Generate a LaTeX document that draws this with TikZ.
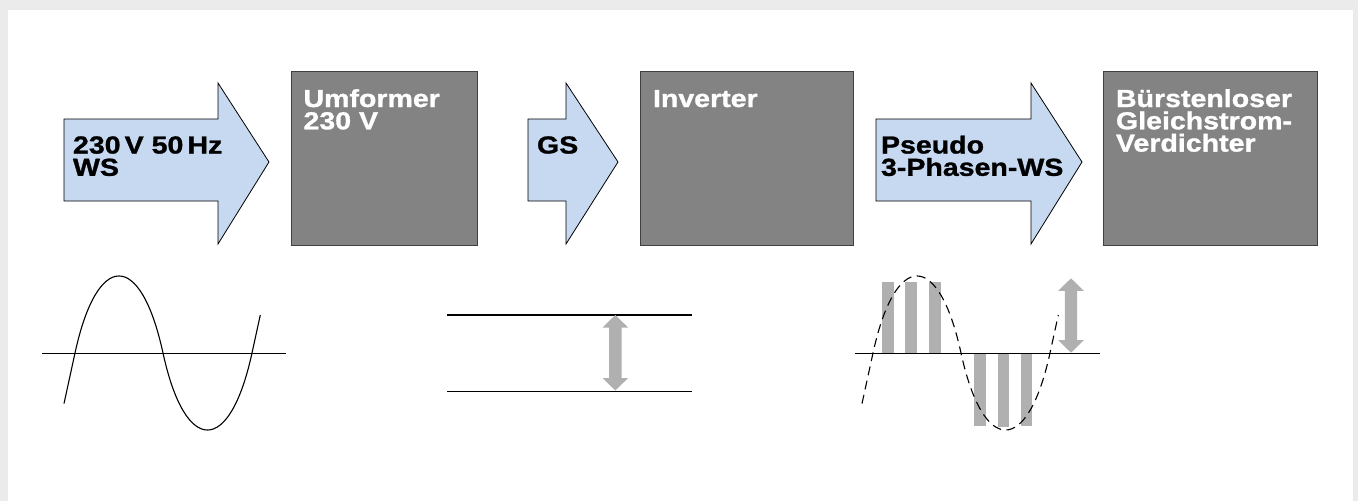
\documentclass[tikz,border=0pt]{standalone}
\usepackage{fontspec}
\newfontfamily\lblfont{Liberation Sans}[FakeStretch=1.16, BoldFeatures={FakeBold=1.2}]
\newcommand\lblsetup{\lblfont\bfseries\fontsize{24.6}{22.3}\selectfont\lineskiplimit=-50pt\relax\lineskip=0pt\relax}
\definecolor{bgout}{HTML}{EBEBEB}
\definecolor{arrowfill}{HTML}{C6D9F1}
\definecolor{boxfill}{HTML}{838383}
\definecolor{boxline}{HTML}{404040}
\definecolor{barfill}{HTML}{B0B0B1}
\begin{document}
\begin{tikzpicture}[x=1pt,y=-1pt,
  boxshape/.style={draw=boxline, fill=boxfill, line width=0.9pt, rectangle, anchor=north west, inner sep=0pt, outer sep=0pt},
  arrowshape/.style={draw=black, fill=arrowfill, line width=0.8pt, line join=miter},
  lbl/.style={anchor=north west, inner sep=0pt, outer sep=0pt, align=left, font=\lblsetup},
  wave/.style={draw=black, line width=1.1pt},
  dashwave/.style={draw=black, line width=1.1pt, dash pattern=on 9pt off 5.5pt},
  axisline/.style={draw=black, line width=1.1pt},
  graybar/.style={fill=barfill}
]
\useasboundingbox (0,0) rectangle (1358,501);
\fill[bgout] (0,0) rectangle (1358,501);
\fill[white] (8,10) rectangle (1353,501);

% block arrows
\draw[arrowshape] (64,119) -- (218,119) -- (218,83) -- (269,162) -- (218,244) -- (218,201) -- (64,201) -- cycle;
\draw[arrowshape] (528,119) -- (566,119) -- (566,83) -- (618,162) -- (566,244) -- (566,201) -- (528,201) -- cycle;
\draw[arrowshape] (876,119) -- (1031,119) -- (1031,83) -- (1082,162) -- (1031,244) -- (1031,201) -- (876,201) -- cycle;

% boxes
\node[boxshape, minimum width=186pt, minimum height=174pt] (umformer) at (291,71.5) {};
\node[boxshape, minimum width=213pt, minimum height=174pt] (inverter) at (640,71.5) {};
\node[boxshape, minimum width=214pt, minimum height=174pt] (verdichter) at (1103,71.5) {};

% labels
\node[lbl, text=black] (l1) at (73,133.5) {\rule{0pt}{20pt}230\,V 50\,Hz\\WS};
\node[lbl, text=black] (l2) at (537,133.5) {\rule{0pt}{20pt}GS};
\node[lbl, text=black] (l3) at (881,133.5) {\rule{0pt}{20pt}Pseudo\\3-Phasen-WS};
\node[lbl, text=white] (l4) at (303.5,87) {\rule{0pt}{20pt}Umformer\\230 V};
\node[lbl, text=white] (l5) at (653,87) {\rule{0pt}{20pt}Inverter};
\node[lbl, text=white] (l6) at (1116,87) {\rule{0pt}{20pt}Bürstenloser\\Gleichstrom-\\Verdichter};

% AC sine
\draw[axisline] (42,353.3) -- (286,353.3);
\draw[wave] (64,403.6) -- (75,353) .. controls (97.3,250.3) and (140.7,250.3) .. (163,353)
  .. controls (185.3,455.7) and (229.7,455.7) .. (252,353) -- (260.3,315);

% DC
\draw[axisline] (447,315) -- (692,315);
\draw[axisline] (447,391.5) -- (692,391.5);
\fill[graybar] (615.3,315) -- (628.1,327.5) -- (621.5,327.5) -- (621.5,378) -- (628.1,378) -- (615.3,390.5)
  -- (602.5,378) -- (609.1,378) -- (609.1,327.5) -- (602.5,327.5) -- cycle;

% pseudo 3-phase
\fill[graybar] (882.3,281.7) rectangle (893.8,353.3);
\fill[graybar] (905.3,281.7) rectangle (916.8,353.3);
\fill[graybar] (929.0,281.7) rectangle (940.5,353.3);
\fill[graybar] (974.2,353.3) rectangle (985.7,426);
\fill[graybar] (997.5,353.3) rectangle (1009.0,426.7);
\fill[graybar] (1020.8,353.3) rectangle (1032.3,426);
\fill[graybar] (1071,278.3) -- (1083.8,290.8) -- (1077.2,290.8) -- (1077.2,340.2) -- (1083.8,340.2) -- (1071,352.7)
  -- (1058.2,340.2) -- (1064.8,340.2) -- (1064.8,290.8) -- (1058.2,290.8) -- cycle;
\draw[dashwave] (862,403.6) -- (873,353) .. controls (895.3,250.3) and (938.7,250.3) .. (961,353)
  .. controls (983.3,455.7) and (1027.7,455.7) .. (1050,353) -- (1058.3,315);
\draw[axisline] (855,353.3) -- (1100,353.3);
\end{tikzpicture}
\end{document}
